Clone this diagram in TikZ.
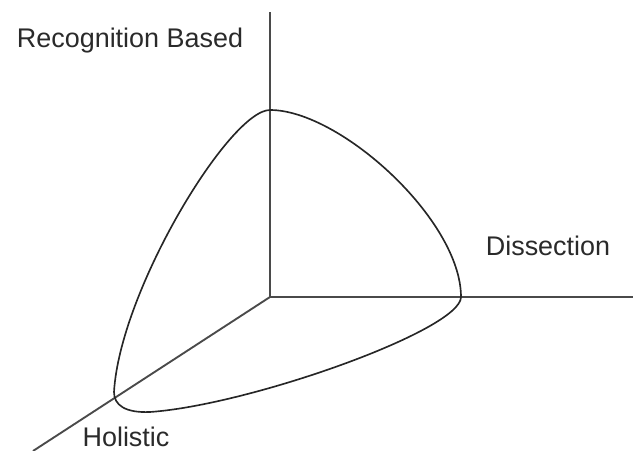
\documentclass[tikz,border=0pt]{standalone}
\usepackage{fontspec}
\setmainfont{Liberation Sans}
\usepackage{xcolor}
\definecolor{axisgray}{HTML}{4A4A4A}
\definecolor{labelgray}{HTML}{2A2A2A}

\begin{document}
\begin{tikzpicture}[
    x=0.03cm, y=-0.03cm,
    axis/.style={draw=axisgray, line width=1.6pt},
    region/.style={draw=black!85, line width=1.4pt},
    label/.style={anchor=base, text=labelgray, font=\fontsize{23}{27}\selectfont}
]
\useasboundingbox (0,0) rectangle (635,451);

\coordinate (origin) at (270,297);
\coordinate (ytop) at (270,12);
\coordinate (xend) at (633,297);
\coordinate (zend) at (33,451);

\node[label] (recog) at (130,48) {Recognition Based};
\node[label] (dissect) at (548,255) {Dissection};
\node[label] (holist) at (126,446) {Holistic};

\draw[axis] (origin) -- (ytop);
\draw[axis] (origin) -- (xend);
\draw[axis] (origin) -- (zend);

% closed region across the three axes
\coordinate (peak) at (270,110);
\coordinate (rmost) at (461,297);
\coordinate (low) at (150,412);
\coordinate (lmost) at (114,392);
\draw[region] (peak) .. controls (340,110) and (461,220) .. (rmost)
  .. controls (461,330) and (250,405) .. (low)
  .. controls (125,413) and (114,405) .. (lmost)
  .. controls (120,290) and (230,110) .. (peak) -- cycle;
\end{tikzpicture}
\end{document}
